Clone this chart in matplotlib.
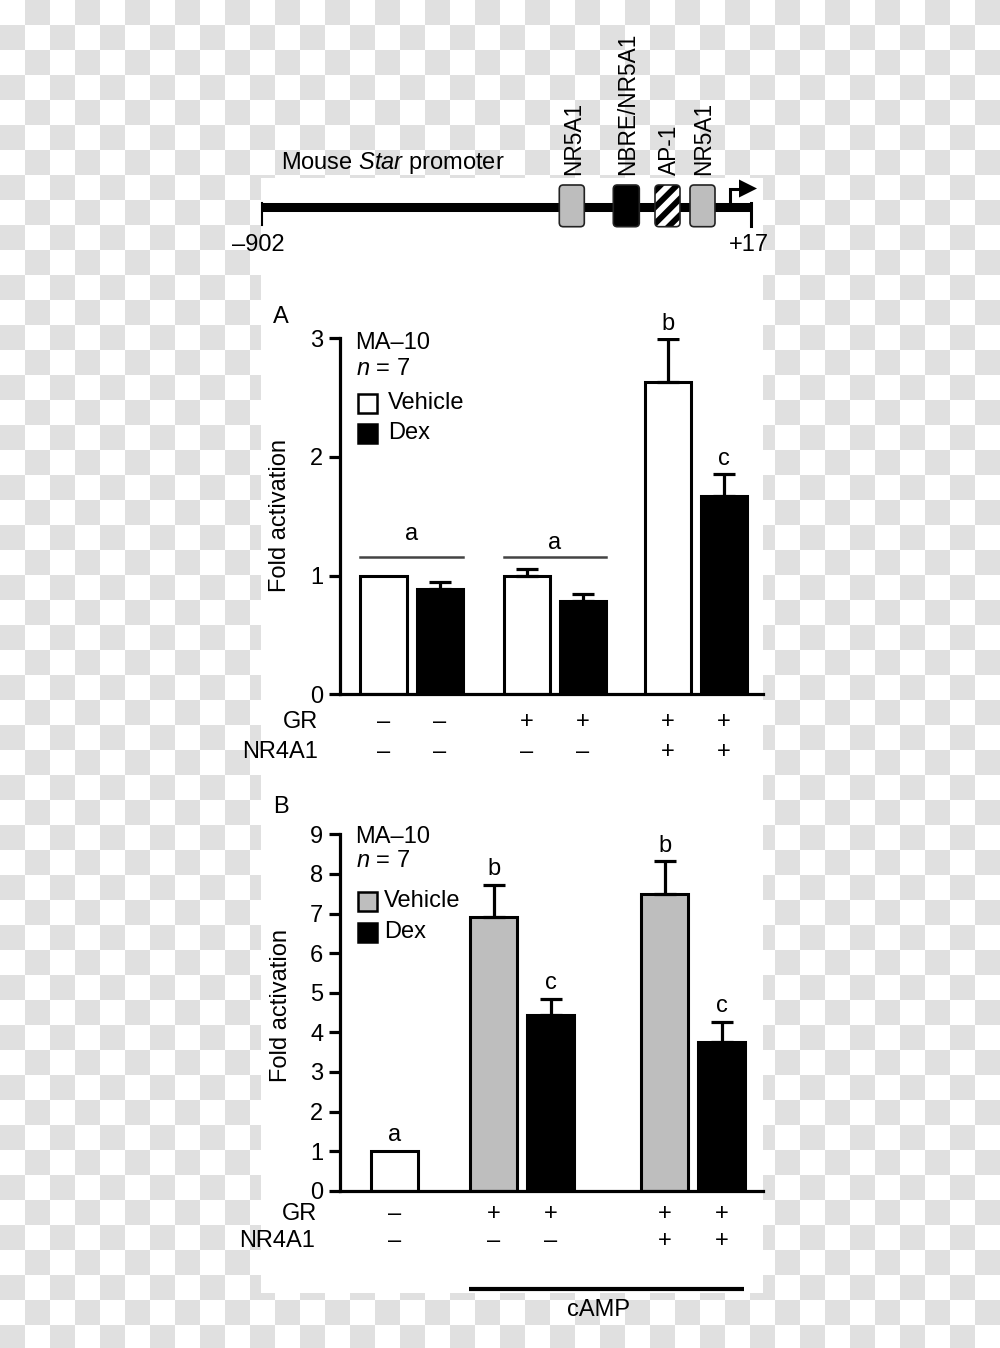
import numpy as np
import matplotlib
matplotlib.use('Agg')
import matplotlib.pyplot as plt
from matplotlib.patches import Rectangle, FancyBboxPatch, Polygon
from matplotlib.transforms import blended_transform_factory

plt.rcParams['font.family'] = ['Liberation Sans', 'DejaVu Sans']
plt.rcParams['mathtext.fontset'] = 'custom'
plt.rcParams['mathtext.rm'] = 'Liberation Sans'
plt.rcParams['mathtext.it'] = 'Liberation Sans:italic'

# ---------------- data ----------------
promoter_title = r"Mouse $\mathit{Star}$ promoter"
promoter_ends = ['\u2013902', '+17']
site_names = ['NR5A1', 'NBRE/NR5A1', 'AP-1', 'NR5A1']
site_styles = ['gray', 'black', 'hatch', 'gray']

cell_line = 'MA\u201310'
n_text = r"$\mathit{n}$ = 7"
treatments = ['Vehicle', 'Dex']

# Panel A
a_values = [1.00, 0.89, 1.00, 0.79, 2.63, 1.67]
a_errors = [0.0, 0.055, 0.06, 0.052, 0.36, 0.19]
a_treat = ['Vehicle', 'Dex', 'Vehicle', 'Dex', 'Vehicle', 'Dex']
a_letters = ['', '', '', '', 'b', 'c']
a_group_letters = ['a', 'a']
a_gr = ['\u2013', '\u2013', '+', '+', '+', '+']
a_nr4a1 = ['\u2013', '\u2013', '\u2013', '\u2013', '+', '+']
a_yticks = [0, 1, 2, 3]

# Panel B
b_values = [1.00, 6.92, 4.44, 7.48, 3.75]
b_errors = [0.0, 0.81, 0.41, 0.84, 0.51]
b_treat = ['Control', 'Vehicle', 'Dex', 'Vehicle', 'Dex']
b_letters = ['a', 'b', 'c', 'b', 'c']
b_gr = ['\u2013', '+', '+', '+', '+']
b_nr4a1 = ['\u2013', '\u2013', '\u2013', '+', '+']
b_yticks = list(range(10))
camp_label = 'cAMP'

# ---------------- layout ----------------
W, H = 1000, 1348
fig = plt.figure(figsize=(W / 100, H / 100), dpi=100)

def fig_rect(x0, y0, x1, y1):
    return [x0 / W, 1 - y1 / H, (x1 - x0) / W, (y1 - y0) / H]

# background (checkerboard + white panel) and schematic, in pixel coordinates
bg = fig.add_axes([0, 0, 1, 1], zorder=-10)
bg.set_xlim(0, W)
bg.set_ylim(H, 0)
bg.axis('off')
yy, xx = np.indices((H, W))
chk = ((yy // 25 + xx // 25) % 2).astype(float)
img = np.where(chk[..., None] > 0, 224 / 255, 1.0) * np.ones((1, 1, 3))
bg.imshow(img, extent=(0, W, H, 0), interpolation='nearest', aspect='auto', zorder=0)
bg.add_patch(Rectangle((261, 178), 502, 1115, facecolor='white', edgecolor='none', zorder=1))

FS = 17
# promoter schematic
bg.plot([261, 752], [207, 207], color='black', lw=6.5, solid_capstyle='butt', zorder=3)
bg.plot([261.5, 261.5], [203, 225], color='black', lw=1.5, zorder=3)
bg.plot([751, 751], [203, 226], color='black', lw=2.2, zorder=3)
bg.plot([729.5, 729.5, 741], [207, 188.5, 188.5], color='black', lw=2.2, zorder=3,
        solid_joinstyle='miter')
bg.add_patch(Polygon([(739, 179.5), (739, 197.5), (757, 188.5)], closed=True,
                     facecolor='black', edgecolor='none', zorder=3))
site_x = [(559.3, 584.3), (613.3, 639.3), (655, 680), (690, 715)]
box_top, box_h = 185, 41.7
for (x0, x1), name, style in zip(site_x, site_names, site_styles):
    fc = {'gray': '#bdbdbd', 'black': 'black', 'hatch': 'white'}[style]
    p = FancyBboxPatch((x0, box_top), x1 - x0, box_h,
                       boxstyle='round,pad=0,rounding_size=4',
                       facecolor=fc, edgecolor='none', zorder=4)
    bg.add_patch(p)
    if style == 'hatch':
        for c in np.arange(-30, 90, 16.5):
            ln, = bg.plot([x0 - 50, x1 + 50],
                          [box_top + box_h + 50 - c, box_top + box_h - (x1 - x0) - 50 - c],
                          color='black', lw=4.2, zorder=4.5, solid_capstyle='butt')
            ln.set_clip_path(p)
    bg.add_patch(FancyBboxPatch((x0, box_top), x1 - x0, box_h,
                                boxstyle='round,pad=0,rounding_size=4',
                                facecolor='none', edgecolor='#222222', lw=1.2, zorder=4.8))
    bg.text((x0 + x1) / 2 + 1.5, 175, name, rotation=90, ha='center', va='bottom',
            fontsize=16.3, zorder=5)
bg.text(281, 163, promoter_title, ha='left', va='center', fontsize=FS, zorder=5)
bg.text(258.5, 245, promoter_ends[0], ha='center', va='center', fontsize=FS, zorder=5)
bg.text(749, 245, promoter_ends[1], ha='center', va='center', fontsize=FS, zorder=5)


def style_axes(ax, ymax, yticks):
    ax.set_facecolor('none')
    ax.set_xlim(0, 3)
    ax.set_ylim(0, ymax)
    for s in ['top', 'right']:
        ax.spines[s].set_visible(False)
    for s in ['left', 'bottom']:
        ax.spines[s].set_linewidth(2.3)
    ax.set_xticks([])
    ax.set_yticks(yticks)
    ax.set_yticklabels([str(t) for t in yticks])
    ax.tick_params(axis='y', direction='out', length=7.9, width=2.3, pad=4.0,
                   labelsize=FS)


def draw_bars(ax, pos, vals, errs, colors, width, letters, letter_off):
    ax.bar(pos, vals, width=width, color=colors, edgecolor='black', linewidth=2.2,
           zorder=2)
    for x, v, e, l in zip(pos, vals, errs, letters):
        if e > 0:
            ax.errorbar([x], [v], yerr=[[0], [e]], fmt='none', ecolor='black',
                        elinewidth=2.3, capsize=7.9, capthick=2.3, zorder=3)
        if l:
            ax.annotate(l, xy=(x, v + e), xytext=(0, letter_off),
                        textcoords='offset points', ha='center', va='baseline',
                        fontsize=FS)


def draw_legend(ys, text_x, colors):
    # ys: vertical pixel centres of "MA-10", "n = 7", Vehicle, Dex rows
    bg.text(355, ys[0], cell_line, ha='left', va='center', fontsize=FS, zorder=5)
    bg.text(356, ys[1], n_text, ha='left', va='center', fontsize=FS, zorder=5)
    for yc, lab, c in zip(ys[2:], treatments, colors):
        bg.add_patch(Rectangle((357.5, yc - 9.5), 19.5, 19.5, facecolor=c,
                               edgecolor='black', lw=1.8, zorder=5))
        bg.text(text_x, yc, lab, ha='left', va='center', fontsize=FS, zorder=5)


# ---------------- Panel A ----------------
axA = fig.add_axes(fig_rect(339.9, 338.3, 762.8, 694.3))
style_axes(axA, 3, a_yticks)
a_pos = [0.309, 0.709, 1.327, 1.722, 2.328, 2.724]
a_width = 0.327
a_colors = ['white' if t == 'Vehicle' else 'black' for t in a_treat]
draw_bars(axA, a_pos, a_values, a_errors, a_colors, a_width, a_letters, 6.5)
# group lines with letters
grp_line_y = 1.157
grp_letter_y = [1.300, 1.222]
for g, lt in enumerate(a_group_letters):
    x0 = a_pos[2 * g] - a_width / 2
    x1 = a_pos[2 * g + 1] + a_width / 2
    axA.plot([x0, x1], [grp_line_y, grp_line_y], color='#444444', lw=1.8, zorder=3)
    axA.text((x0 + x1) / 2, grp_letter_y[g], lt, ha='center', va='baseline', fontsize=FS)

bg.text(280.6, 317, 'A', ha='center', va='center', fontsize=FS, zorder=5)
bg.text(280, 515, 'Fold activation', rotation=90, ha='center', va='center',
        fontsize=FS, zorder=5)
draw_legend([343, 369, 403, 433], 388, ['white', 'black'])
trA = blended_transform_factory(axA.transData, bg.transData)
bg.text(318.5, 722, 'GR', ha='right', va='center', fontsize=FS, zorder=5)
bg.text(317.5, 752, 'NR4A1', ha='right', va='center', fontsize=FS, zorder=5)
for x, s1, s2 in zip(a_pos, a_gr, a_nr4a1):
    axA.text(x, 722, s1, transform=trA, ha='center', va='center', fontsize=FS)
    axA.text(x, 752, s2, transform=trA, ha='center', va='center', fontsize=FS)

# ---------------- Panel B ----------------
axB = fig.add_axes(fig_rect(339.9, 834.3, 762.8, 1190.7))
style_axes(axB, 9, b_yticks)
b_pos = [0.386, 1.090, 1.494, 2.303, 2.708]
b_width = 0.332
b_cmap = {'Control': 'white', 'Vehicle': '#bebebe', 'Dex': 'black'}
b_colors = [b_cmap[t] for t in b_treat]
draw_bars(axB, b_pos, b_values, b_errors, b_colors, b_width, b_letters, 7.0)

bg.text(281, 807, 'B', ha='center', va='center', fontsize=FS, zorder=5)
bg.text(281, 1005, 'Fold activation', rotation=90, ha='center', va='center',
        fontsize=FS, zorder=5)
draw_legend([837, 861, 901, 932], 384, ['#bebebe', 'black'])
trB = blended_transform_factory(axB.transData, bg.transData)
bg.text(317.5, 1214, 'GR', ha='right', va='center', fontsize=FS, zorder=5)
bg.text(315, 1241, 'NR4A1', ha='right', va='center', fontsize=FS, zorder=5)
for x, s1, s2 in zip(b_pos, b_gr, b_nr4a1):
    axB.text(x, 1214, s1, transform=trB, ha='center', va='center', fontsize=FS)
    axB.text(x, 1241, s2, transform=trB, ha='center', va='center', fontsize=FS)
camp_x0 = b_pos[1] - b_width / 2 - 0.01
camp_x1 = b_pos[-1] + b_width / 2 - 0.005
axB.plot([camp_x0, camp_x1], [1288.6, 1288.6], transform=trB, color='black', lw=3.0,
         clip_on=False, solid_capstyle='butt')
bg.text(599, 1310, camp_label, ha='center', va='center', fontsize=FS, zorder=5)

fig.savefig('out.png', dpi=100)
